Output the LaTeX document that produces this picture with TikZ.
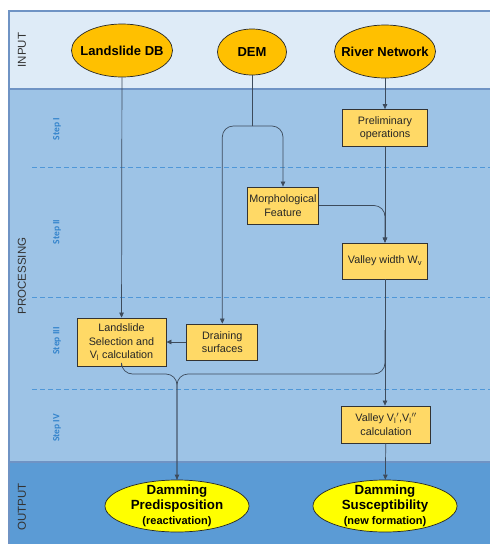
\documentclass[tikz,border=0pt]{standalone}
\usepackage{fontspec}
\setmainfont{Liberation Sans}
\newfontfamily\stepfont{Carlito}
\usetikzlibrary{positioning,shapes.geometric,arrows.meta}

\definecolor{inputband}{HTML}{DEEBF7}
\definecolor{procband}{HTML}{9DC3E6}
\definecolor{outband}{HTML}{5B9BD5}
\definecolor{laneline}{HTML}{6F93C4}
\definecolor{stepblue}{HTML}{3484CC}
\definecolor{dashblue}{HTML}{4F97D8}
\definecolor{inorange}{HTML}{FFC000}
\definecolor{boxyellow}{HTML}{FFD966}
\definecolor{outyellow}{HTML}{FFFF00}
\definecolor{wirecol}{HTML}{3D4B5C}

\tikzset{
 inlet/.style={ellipse, draw=black!85, fill=inorange, line width=0.7pt, inner xsep=-12pt, inner ysep=0pt, minimum width=101pt, minimum height=53pt, font=\fontsize{13}{15}\selectfont\bfseries},
 outlet/.style={ellipse, draw=black!85, fill=outyellow, line width=0.7pt, inner xsep=0pt, inner ysep=-3pt, minimum width=144pt, minimum height=52pt, align=center, font=\fontsize{13.3}{15}\selectfont\bfseries},
 procbox/.style={rectangle, draw=black!80, fill=boxyellow, line width=0.8pt, align=center, inner sep=0pt, font=\fontsize{10.8}{13.5}\selectfont, text=black!85},
 wire/.style={draw=wirecol, line width=0.7pt, rounded corners=11pt},
 steplabel/.style={rotate=90, text=stepblue, font=\stepfont\fontsize{9.5}{11}\selectfont\bfseries},
 lanelabel/.style={rotate=90, text=black!80, font=\fontsize{11.5}{13}\selectfont},
}

\begin{document}
\begin{tikzpicture}[x=1pt, y=-1pt, >={Triangle[length=5pt,width=4.5pt]}]
 \useasboundingbox (0,0) rectangle (490,544);

 %Lanes
 \fill[inputband] (9,11) rectangle (490,89);
 \fill[procband] (9,89) rectangle (490,462);
 \fill[outband] (9,462) rectangle (490,544);
 \draw[laneline, line width=1.2pt] (490,11) -- (9,11) -- (9,544);
 \draw[laneline, line width=1.2pt] (9,89) -- (490,89);
 \draw[laneline, line width=1.2pt] (9,462) -- (490,462);

 \node (laneIn) [lanelabel] at (22,50) {INPUT};
 \node (laneProc) [lanelabel] at (22,276) {PROCESSING};
 \node (laneOut) [lanelabel] at (22,507) {OUTPUT};

 %Steps
 \foreach \y in {167,297,389}
 \draw[dashblue, line width=1pt, dash pattern=on 5pt off 3pt] (32,\y) -- (490,\y);

 \foreach \y/\s in {129/I,232/II,341/III,428/IV}
 \node (step\s) [steplabel] at (57,\y) {Step \s};

 %Inputs
 \node (landslideDB) [inlet] at (122,50.5) {Landslide DB};
 \node (dem) [inlet, minimum width=69pt, minimum height=46pt] at (252,52) {DEM};
 \node (river) [inlet] at (385,51.5) {River Network};

 %Processing
 \node (prelim) [procbox, minimum width=85pt, minimum height=37pt] at (385,128) {Preliminary\\operations};
 \node (morph) [procbox, minimum width=71pt, minimum height=37pt] at (283,205.5) {Morphological\\Feature};
 \node (width) [procbox, minimum width=85pt, minimum height=36pt] at (385,261) {Valley width W\textsubscript{v}};
 \node (lsel) [procbox, minimum width=89pt, minimum height=48pt] at (121.5,342) {Landslide\\Selection and\\V\textsubscript{l} calculation};
 \node (drain) [procbox, minimum width=71pt, minimum height=36pt, right=20pt of lsel] {Draining\\surfaces};
 \node (vcalc) [procbox, minimum width=89pt, minimum height=37pt] at (386,424.5) {Valley V\textsubscript{l}$'$,V\textsubscript{l}$''$\\calculation};

 %Outputs
 \node (predisp) [outlet] at (177,506) {Damming\\Predisposition\\{\fontsize{11}{13}\selectfont(reactivation)}};
 \node (suscept) [outlet] at (385,506) {Damming\\Susceptibility\\{\fontsize{11}{13}\selectfont(new formation)}};

 %Coordinates
 \coordinate (demsplit) at (252,126);
 \coordinate (joinpt) at (177,374);
 \coordinate (branchpt) at (385,330);

 %Connectors
 \draw[wire] (dem) -- (demsplit);
 \draw[wire,->] (demsplit) -| (morph);
 \draw[wire,->] (demsplit) -| (drain);
 \draw[wire,->] (landslideDB) -- (lsel);
 \draw[wire,->] (river) -- (prelim);
 \draw[wire,->] (prelim) -- (width);
 \draw[wire,->] (morph) -| (width);
 \draw[wire,->] (width) -- (width.south |- vcalc.north);
 \draw[wire,->] (drain) -- (lsel);
 \draw[wire,->] (vcalc) -- (suscept);
 \draw[wire,->] (lsel) |- (joinpt) -- (predisp);
 \draw[wire] (branchpt) |- (joinpt) -- (predisp);

\end{tikzpicture}
\end{document}
